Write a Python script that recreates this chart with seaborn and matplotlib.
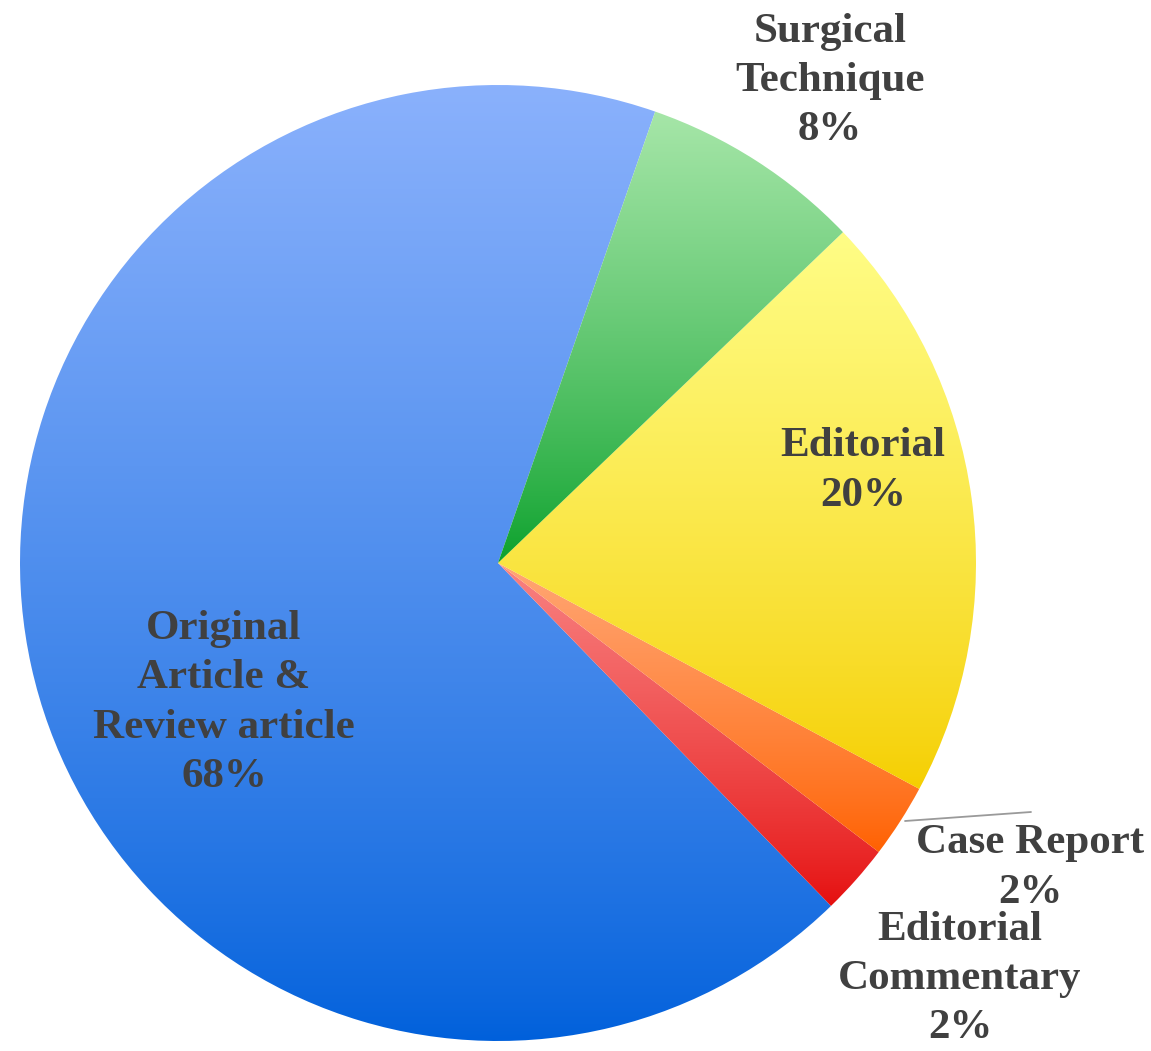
import numpy as np
import matplotlib
matplotlib.use("Agg")
import matplotlib.pyplot as plt
import matplotlib.colors as mcolors
import seaborn as sns

# ---- data ----
categories = ["Original\nArticle &\nReview article", "Editorial\nCommentary",
              "Case Report", "Editorial", "Surgical\nTechnique"]
shares = [67.6, 2.4, 2.5, 20.0, 7.5]
pct_labels = ["68%", "2%", "2%", "20%", "8%"]
top_colors = ["#8AB1FC", "#F88282", "#FFA674", "#FFFD86", "#A6E6A8"]
bottom_colors = ["#0060DB", "#E50E0E", "#FF6000", "#F5CE00", "#09A02A"]

sns.set_theme(style="white")
plt.rcParams['font.family'] = ['Liberation Serif', 'DejaVu Serif']

W, H = 1151, 1051
fig = plt.figure(figsize=(W / 100, H / 100), dpi=100)
ax = fig.add_axes([0, 0, 1, 1])
ax.set_axis_off()

cx, cy, R = 498, H - 563, 478
wedges, _ = ax.pie(shares, startangle=70.8, counterclock=True,
                   radius=R, center=(cx, cy), frame=True,
                   wedgeprops=dict(linewidth=0))

for w, ctop, cbot in zip(wedges, top_colors, bottom_colors):
    w.set_facecolor("none")
    ext = w.get_path().get_extents()
    c0 = np.array(mcolors.to_rgb(cbot))
    c1 = np.array(mcolors.to_rgb(ctop))
    t = np.linspace(0, 1, 256)[:, None, None] ** 0.8
    grad = c0 * (1 - t) + c1 * t
    im = ax.imshow(grad, extent=(ext.x0, ext.x1, ext.y0, ext.y1),
                   origin="lower", aspect="auto", interpolation="bilinear",
                   zorder=1)
    im.set_clip_path(w)

ax.set_xlim(0, W)
ax.set_ylim(0, H)
ax.set_aspect("equal")

label_pos = [(224, 703), (960, 979), (1030, 868), (863, 471), (830, 81)]
for cat, pct, (x, y) in zip(categories, pct_labels, label_pos):
    ax.text(x, H - y, f"{cat}\n{pct}", ha="center", va="center",
            multialignment="center", fontsize=31, fontweight="bold",
            color="#404040", linespacing=1.38, zorder=5)

# leader line for Case Report
ax.plot([905, 1031], [H - 821, H - 812], color="#9A9A9A", lw=1.3, zorder=4)

fig.savefig("out.png", dpi=100, facecolor="white")
